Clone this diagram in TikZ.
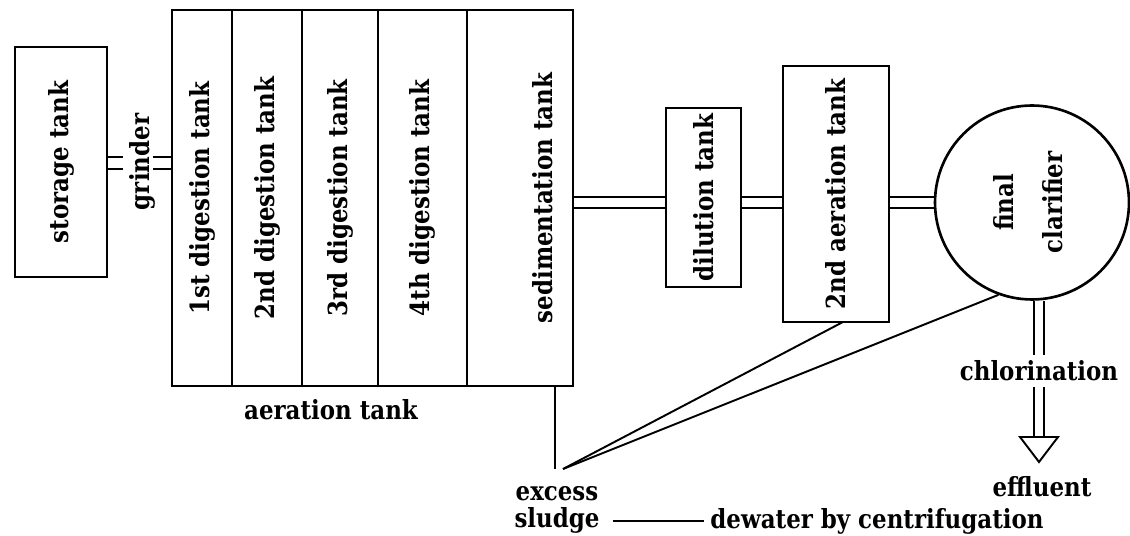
\documentclass[tikz,border=0pt]{standalone}
\usepackage{graphicx}
\usepackage{fontspec}
\setmainfont{DejaVu Serif}[FakeStretch=0.87]
\usepackage{tikz}
\usetikzlibrary{positioning, backgrounds}

\begin{document}
\begin{tikzpicture}[
    x=0.02cm, y=-0.02cm,
    font=\fontsize{15}{18}\selectfont\bfseries,
    tank/.style={rectangle, draw, line width=1.5pt, inner sep=0pt, outer sep=0pt, text centered},
    column/.style={tank, minimum height=7.52cm},
    pipe/.style={double, line width=1.1pt, double distance=5pt},
    sludge/.style={line width=1.1pt}
]
\useasboundingbox (0,0) rectangle (1130,536);

% Storage tank and grinder
\node[tank, minimum width=1.84cm, minimum height=4.6cm] (store) at (61,162) {\rotatebox{90}{storage tank}};
\node (grind) at (142,162) {\rotatebox{90}{grinder}};
\coordinate (grl) at (123,163);
\coordinate (grr) at (153,163);

% Aeration tank
\node[column, minimum width=1.2cm] (dig1) at (202,198) {\rotatebox{90}{1st digestion tank}};
\node[column, minimum width=1.4cm, right=0pt of dig1] (dig2) {\rotatebox{90}{2nd digestion tank}};
\node[column, minimum width=1.52cm, right=0pt of dig2] (dig3) {\rotatebox{90}{3rd digestion tank}};
\node[column, minimum width=1.78cm, right=0pt of dig3] (dig4) {\rotatebox{90}{4th digestion tank}};
\node[column, minimum width=2.12cm, right=0pt of dig4] (sed) {\hspace*{0.9cm}\rotatebox{90}{sedimentation tank}};
\node (aerl) at (331,410) {aeration tank};

% Secondary treatment
\node[tank, minimum width=1.5cm, minimum height=3.58cm] (dil) at (703.5,197.5) {\rotatebox{90}{dilution tank}};
\node[tank, minimum width=2.12cm, minimum height=5.12cm] (aer2) at (836,194) {\rotatebox{90}{2nd aeration tank}};
\node[circle, draw, line width=1.5pt, inner sep=0pt, minimum size=3.88cm] (fc) at (1032,202.5)
    {\rotatebox{90}{\begin{tabular}{@{}c@{}}final\\[10pt]clarifier\end{tabular}}};

% Outlet
\node (chl) at (1039,371) {chlorination};
\coordinate (ahd) at (1039,437);
\node (eff) at (1042,487) {effluent};

% Sludge
\coordinate (sv) at (555,469);
\coordinate (sj) at (563,469);
\node[align=center, font=\fontsize{15}{15}\selectfont\bfseries] (exs) at (557,510) {excess\\sludge};
\node (dew) at (877,521) {dewater by centrifugation};

% Pipes
\begin{scope}[on background layer]
\draw[pipe, double distance=5.6pt] (store.east |- grl) -- (grl);
\draw[pipe, double distance=5.6pt] (grr) -- (dig1.west |- grr);
\draw[pipe] (sed.east |- fc.west) -- (dil.west |- fc.west);
\draw[pipe] (dil.east |- fc.west) -- (aer2.west |- fc.west);
\draw[pipe] (aer2.east |- fc.west) -- (fc.west);
\draw[pipe, double distance=4.4pt] (fc.south -| chl.north) -- (chl.north);
\draw[pipe, double distance=4.4pt] (chl.south) -- (ahd);
\end{scope}
\draw[line width=1.1pt, fill=white] (ahd) ++(-19,0) -- ++(38,0) -- ++(-19,25) -- cycle;

% Connections
\draw[sludge] (sed.south -| sv) -- (sv);
\draw[sludge] (sj) -- ([xshift=0.14cm]aer2.south);
\draw[sludge] (sj) -- (fc.250);
\draw[sludge, shorten <=4pt] (exs.east |- dew.west) -- (dew.west);

\end{tikzpicture}
\end{document}
